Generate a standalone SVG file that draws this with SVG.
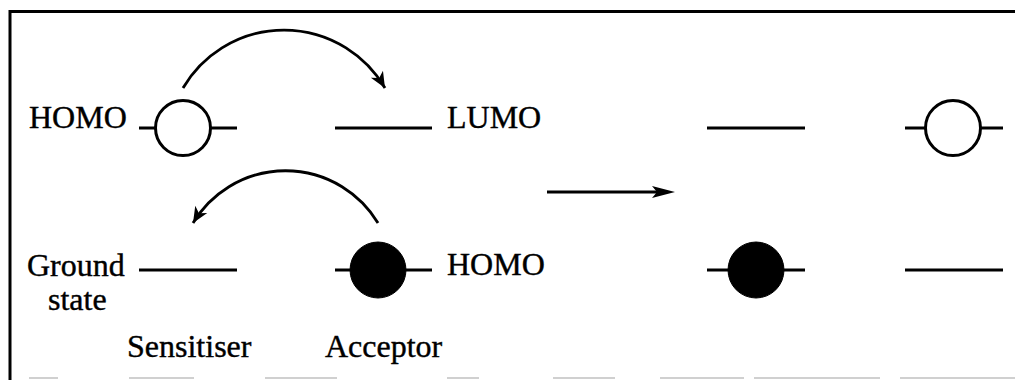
<svg xmlns="http://www.w3.org/2000/svg" width="1015" height="380" viewBox="0 0 1015 380">
<style>
text{font-family:"Liberation Serif","Times New Roman",serif;font-size:32px;fill:#000;stroke:#000;stroke-width:0.4}
.lv{stroke:#000;stroke-width:3;fill:none}
.orb{stroke:#000;stroke-width:3;fill:#fff}
.full{fill:#000;stroke:#000;stroke-width:1}
.arc{stroke:#000;stroke-width:2.8;fill:none}
</style>
<defs>
<marker id="ah" markerUnits="userSpaceOnUse" markerWidth="22" markerHeight="16" refX="17" refY="8" orient="auto">
<path d="M17,8 L1,1 L5.5,8 L1,15 Z" fill="#000"/>
</marker>
</defs>
<g id="frame">
<path d="M10,380 L10,11.5 L1015,11.5" fill="none" stroke="#000" stroke-width="3"/>
<g stroke="#d0d0d0" stroke-width="2">
<line x1="29" y1="378" x2="58" y2="378"/>
<line x1="129" y1="378" x2="194" y2="378"/>
<line x1="265" y1="378" x2="337" y2="378"/>
<line x1="447" y1="378" x2="479" y2="378"/>
<line x1="553" y1="378" x2="615" y2="378"/>
<line x1="660" y1="378" x2="744" y2="378"/>
<line x1="754" y1="378" x2="880" y2="378"/>
<line x1="900" y1="378" x2="1015" y2="378"/>
</g>
</g>
<g id="sens-homo">
<line class="lv" x1="139" y1="128" x2="237" y2="128"/>
<circle class="orb" cx="183" cy="128" r="27.5"/>
<text x="29" y="128">HOMO</text>
</g>
<g id="acc-lumo">
<line class="lv" x1="335" y1="128" x2="432" y2="128"/>
<text x="447" y="128">LUMO</text>
</g>
<g id="sens-ground">
<line class="lv" x1="139" y1="270" x2="237" y2="270"/>
<text x="27" y="276">Ground</text>
<text x="48" y="310">state</text>
</g>
<g id="acc-homo">
<line class="lv" x1="335" y1="270" x2="432" y2="270"/>
<circle class="full" cx="378" cy="270" r="28"/>
<text x="447" y="275">HOMO</text>
</g>
<g id="right-lumo">
<line class="lv" x1="707" y1="128" x2="805" y2="128"/>
</g>
<g id="right-homo-open">
<line class="lv" x1="905" y1="128" x2="1003" y2="128"/>
<circle class="orb" cx="953" cy="128" r="27.5"/>
</g>
<g id="right-homo-full">
<line class="lv" x1="707" y1="270" x2="805" y2="270"/>
<circle class="full" cx="756" cy="270" r="28"/>
</g>
<g id="right-ground">
<line class="lv" x1="905" y1="270" x2="1003" y2="270"/>
</g>
<g id="labels">
<text x="127" y="357">Sensitiser</text>
<text x="325" y="357">Acceptor</text>
</g>
<g id="connectors">
<path class="arc" d="M183,88 A117,117 0 0 1 385,88" marker-end="url(#ah)"/>
<path class="arc" d="M378,223 A108,108 0 0 0 193,223" marker-end="url(#ah)"/>
<line x1="547" y1="192" x2="660" y2="192" stroke="#000" stroke-width="3"/>
<path d="M675,192 L652,186 L657,192 L652,198 Z" fill="#000"/>
</g>
</svg>
